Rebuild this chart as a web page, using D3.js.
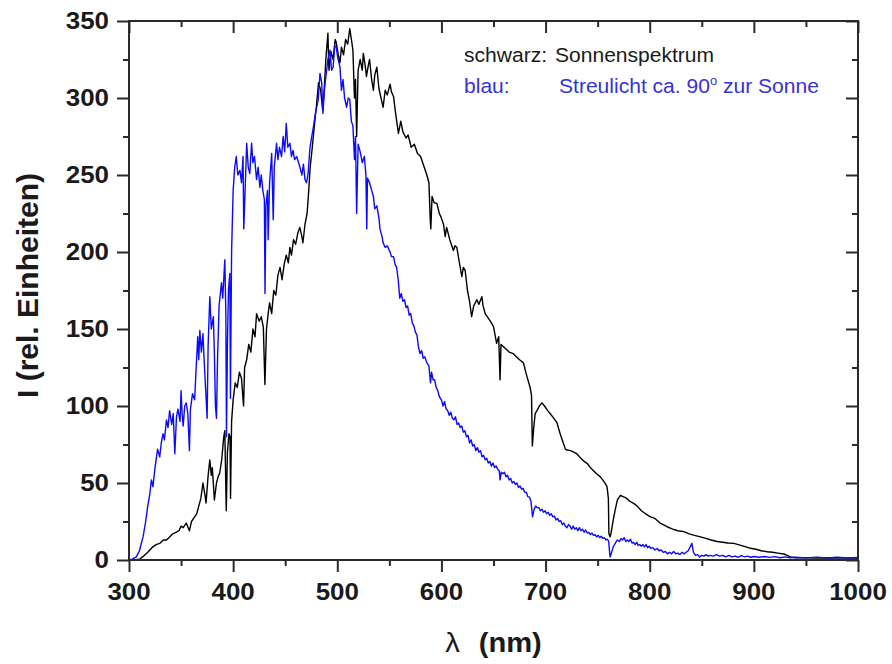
<!DOCTYPE html>
<html>
<head>
<meta charset="utf-8">
<script src="https://cdn.jsdelivr.net/npm/d3@7"></script>
<style>
  body { margin: 0; background: #ffffff; }
  svg { display: block; }
</style>
</head>
<body>
<svg id="chart" width="892" height="664"></svg>
<script>
// Sonnenspektrum (direct sunlight): wavelength in nm and relative intensity
const sunNm = [
  300,305,310,313,318,322,326,330,333,336,
  339,342,345,348,350,352,355,358,360,363,
  365,367,369,371,373,374,376,377.6,379,380,
  382,384,386,387,389,391,392,393.4,394.5,396,
  397,397.5,398.5,400,402,404,406,408,410,411,
  413,415,417,419,421,422.5,425,427,429,430.5,
  432,434,435,437,439,441,443,445,447,449,
  451,453,454.5,456,458,460,462,464,466,467,
  469,471,472,474,476,478,480,482,484,486,
  487,489,491,492,494,496,498,499,501,502.6,
  504,506,508,510,512,514,515,516.5,517.5,518.6,
  520,522,524,525,527,528,530,531,533,534.7,
  536,538,540,542,544,546,548,550.7,552,554,
  556,558.7,561,563,566,568,571,574,577,580,
  583,586,588,589.2,589.8,591,593,595.6,598,600,
  602,603.6,605,608,611.5,613,614.8,617,619.6,621,
  622.8,625,627,629,631,634,636,638.8,640,642,
  645,648,650,653,655,656.3,657.2,659.6,662,665,
  669,672,675,678.8,681,683,685,686.5,687.3,688.5,
  690,691.7,694,696.5,699,702,704.5,708,711,714,
  717,719,720.6,724,727,730,734,737,739.8,743,
  746,749,752.6,756,759,760.3,760.8,762,763,765,
  767,769,771.8,775,778,781,784.6,788,792,796,
  800.7,805,810,816.7,822,827,832.7,838,843,848.7,
  854,859,864.8,870,875,880.8,885,890,896.8,902,
  907,912.9,918,923,928.9,932,935,940,945,950,
  960,970,980,990,1000
];
const sunI = [
  0,0,0.5,2,5,8,10,11,13,13,
  15,17,18,19,22,21,24,19,25,28,
  30,35,40,50,42,37,55,65,55,60,
  39,50,55,56,65,80,84,32,70,82,
  80,40,90,104,115,112,122,118,100,125,
  130,140,135,150,145,160,155,158,151,114,
  150,162,167,160,175,172,185,190,182,192,
  198,193,203,198,208,205,212,216,210,206,
  218,225,234,255,268,282,295,310,305,292,
  300,325,342,318,330,325,338,336,328,323,
  333,328,338,335,345,336,331,300,312,275,
  318,325,318,329,320,314,322,325,312,305,
  315,320,306,300,294,305,302,309,304,301,
  290,277,285,278,274,276,268,270,264,262,
  256,250,245,222,215,236,232,231.6,225,222,
  218,210,216,208,201,204,203,194,184,190,
  188,175,168,158,165,169,166,171,165,160,
  157,154,151.5,140.7,145,117,140,138.5,137,135,
  134,132,130,128,122,117,112.5,107,74,85,
  95,97,100,102,100,97,95,92,89,82,
  76,72,71.4,71,70,69,66,64,62.8,60,
  58,56,54,51,47.6,40,17,15,18,26,
  33,39,42,41,40,38,36.8,35,32,30,
  28,27,24,21.6,20,19,18.4,17,16,15,
  14,13,12,11.5,11,10.8,10,9,7.6,7,
  6,5.4,5,4.5,3.9,3,2,1.5,1.5,1.5,
  1.3,1.5,1.2,1.4,1.3
];

// Streulicht ca. 90° zur Sonne (scattered skylight)
const skyNm = [
  300,303,307,310,313.5,316,318,320,321.5,323,
  325,326,327.5,329.5,331,332.7,334,336,337.5,339,
  341,342.5,344,345.6,347,349,350,351,352,353.5,
  355,356.5,358,359,361,363,364.5,366,367,368,
  369.5,371,372.5,374,375,376,377.6,379,381,382,
  383,384,385,386.5,388.8,390,392,393,393.6,394.5,
  395.5,396.8,397.4,398.5,400,401.5,403,404.5,406.5,408,
  409.5,410.2,411,413,414.5,416,417.7,419,420.5,422.5,
  424,425.7,427,428.5,430,430.6,431.5,433,433.6,435,
  437,438.5,439.5,441.7,443,444.5,446.5,448,449.5,451,
  452.5,454.5,456,457.5,459,461,464,466,467.5,469,
  470.5,472,473.8,475.5,477,479,481.7,483.4,485,486.2,
  487.5,489.8,491,493,494.5,496,497.5,499,500.5,502.6,
  504,505.5,507,509,510.5,512,513.5,515,516.5,517.5,
  518.6,520,522,524,526,527.5,528.3,529,531,533,
  534.7,536,538,540,541,543,544,546,548,550.7,
  552,554,555.5,557,558.5,560,561.5,563,564.5,566,
  567.5,569,570.5,572,573.5,575,576.5,578,579.5,581,
  582.5,584,586,588,589.5,590.5,592,593.5,595,596.5,
  598,600,601.5,603,604.5,606,607.5,609,610.5,612,
  613.5,615,616.5,618,619.5,621,622.5,624,625.5,627,
  628.5,630,631.5,633,634.5,636,637.5,639,640.5,642,
  643.5,645,646.5,648,649.5,651,652.5,654,655.5,656.3,
  657.5,659,660.5,662,663.5,665,666.5,668,669.5,671,
  672.5,674,675.5,677,678.5,680,681.5,683,684.5,686,
  687.5,689,690.5,692,693.5,695,696.5,698,699.5,701,
  702.5,704,705.5,707,708.5,710,711.5,713,714.5,716,
  717.5,719,720.5,722,723.5,725,726.5,728,729.5,731,
  732.5,734,735.5,737,738.5,740,741.5,743,744.5,746,
  747.5,749,750.5,752,753.5,755,756.5,758,759.5,760.6,
  761.5,762,763,765,767,769,771,772.5,774,775.5,
  777,778.5,780,781.5,783,784.5,786,787.5,789,790.5,
  792,793.5,795,796.5,798,799.5,801,803,805,807,
  809,811,813,815,817,819,821,823,825,827,
  829,831,833,835,837,838.5,840.5,842,844,846,
  848,850,852,854,856,858,861,864,867,870,
  873,876,879,882,885,888,891,894,897,900,
  905,910,915,920,925,930,935,940,950,960,
  970,980,990,1000
];
const skyI = [
  0,0.5,2,6,15,25,35,43,52,47.6,
  60,65,72,67,76,82,78,91,86,97,
  88,95,69,93,98,90,110,95,87,100,
  102,95,71,98,108,104,125,145,130,149,
  135,147,125,106,92,140,171,150,158,134,
  100,92,130,165,180,170,195,160,80,140,
  175,186,105,200,240,255,262,250,253,245,
  262,215,230,270.6,255,251,270.6,258,262,247,
  255,242,250,240,234,173,230,240,208,245,
  264,221,255,270.6,260,268,262,275,265,283.5,
  268,270.6,262,266,260,262,255.4,250,257,247,
  245,251,268,275,281,290,299,316,310,290,
  305,318,325,331,318,320,334,333,326,320,
  305,312,300,294,300,299,285,282,260,275,
  225,270,265,258,262,250,215,248,245,240,
  236,228,230,222,215,210,206,203,204,200,
  197,197,192,190,182,170,173,168,169,164,
  165,159,160,154,152,148,146,138,134,136,
  131,132,128,126,115,122,117,117,112,110,
  106,104,100,103,98,97,94,96,92,91,
  93,88,89,86,87,83,84,80,81,76,
  78,74,75,71,73,70,71,67,68,65,
  66,63,64,61,63,60,61,59,58,52,
  57,56,57,54,55,52,53,50,51,49,
  50,47,48,46,46.5,44,44,41,41,38,
  28,33,35,34,34,32,33,31,32,30,
  31,29,30,28,28.5,26,27,25,25.5,23,
  24,22,21,23,22,20,22,20,21,19,
  21,19,20,18,19.5,17.5,18,16.5,17.5,16,
  16.5,15,16,14.5,15.5,14,14.5,13,13.5,12,
  5,2,4,8.6,11,13,12,14,13,14.5,
  12,13,12,13.5,11,11.5,10,11.5,9.5,10,
  9,10,8.5,10,8,9,7.5,8,6.5,7.5,
  6,6.5,5,5.5,4,5,4,5.5,4,4.5,
  3.5,5,4,5,6,8,10.8,5,3,3.5,
  2,3,2.5,3.5,2.5,3,2.5,3.5,2.5,3,
  2,3,2,2.5,1.8,2.8,2,2.5,1.8,2.3,
  1.8,2.3,1.7,2.2,1.5,2,1.5,1.8,1.4,1.9,
  1.4,1.8,1.4,1.6
];

// Axis ticks and labels
const xMajor = [300,400,500,600,700,800,900,1000];
const xMinor = [350,450,550,650,750,850,950];
const yMajor = [0,50,100,150,200,250,300,350];
const yMinor = [25,75,125,175,225,275,325];

const xTitle = "λ";
const xUnit = "(nm)";
const yTitle = "I (rel. Einheiten)";

const svg = d3.select("#chart");
const m = { left: 129, right: 858, top: 21, bottom: 560 };
const sx = 1.08; // slight horizontal widening of the lettering

const x = d3.scaleLinear().domain([300, 1000]).range([m.left, m.right]);
const y = d3.scaleLinear().domain([0, 350]).range([m.bottom, m.top]);

const axisColor = "#2a2a2a";
const fontFamily = "'Liberation Sans', Arial, Helvetica, sans-serif";

// Data curves
const line = d3.line().x(d => x(d[0])).y(d => y(d[1]));
const plot = svg.append("g");
plot.append("path")
  .attr("d", line(d3.zip(sunNm, sunI)))
  .attr("fill", "none").attr("stroke", "#000000")
  .attr("stroke-width", 1.4).attr("stroke-linejoin", "round");
plot.append("path")
  .attr("d", line(d3.zip(skyNm, skyI)))
  .attr("fill", "none").attr("stroke", "#0a0aff")
  .attr("stroke-width", 1.4).attr("stroke-linejoin", "round");

// Axes: outward ticks at bottom/left, inward mirrored ticks at top/right
function addAxis(gen, scale, vals, size, tx, ty) {
  const g = svg.append("g").attr("transform", `translate(${tx},${ty})`)
    .call(gen(scale).tickValues(vals).tickSize(size).tickSizeOuter(0).tickFormat(""));
  g.select(".domain").remove();
  g.selectAll("line").attr("stroke", axisColor).attr("stroke-width", 2);
  return g;
}
addAxis(d3.axisBottom, x, xMajor, 12, 0, m.bottom);
addAxis(d3.axisBottom, x, xMinor, 6, 0, m.bottom);
addAxis(d3.axisTop, x, xMajor, -12, 0, m.top);
addAxis(d3.axisTop, x, xMinor, -6, 0, m.top);
addAxis(d3.axisLeft, y, yMajor, 12, m.left, 0);
addAxis(d3.axisLeft, y, yMinor, 6, m.left, 0);
addAxis(d3.axisRight, y, yMajor, -12, m.right, 0);
addAxis(d3.axisRight, y, yMinor, -6, m.right, 0);

// Frame
svg.append("rect")
  .attr("x", m.left).attr("y", m.top)
  .attr("width", m.right - m.left).attr("height", m.bottom - m.top)
  .attr("fill", "none").attr("stroke", axisColor).attr("stroke-width", 2);

// Tick labels
svg.append("g").selectAll("text").data(xMajor).join("text")
  .attr("transform", d => `translate(${x(d)},${m.bottom + 40}) scale(${sx},1)`)
  .attr("text-anchor", "middle")
  .attr("font-family", fontFamily).attr("font-weight", "bold").attr("font-size", 24)
  .attr("fill", "#1a1a1a")
  .text(d => d);
svg.append("g").selectAll("text").data(yMajor).join("text")
  .attr("transform", d => `translate(${m.left - 20},${y(d) + 8}) scale(${sx},1)`)
  .attr("text-anchor", "end")
  .attr("font-family", fontFamily).attr("font-weight", "bold").attr("font-size", 24)
  .attr("fill", "#1a1a1a")
  .text(d => d);

// Axis titles
const xt = svg.append("text")
  .attr("transform", `translate(${(m.left + m.right) / 2},652) scale(${sx},1)`)
  .attr("text-anchor", "middle")
  .attr("font-family", fontFamily).attr("font-size", 27).attr("fill", "#1a1a1a");
xt.append("tspan").attr("font-weight", "normal").text(xTitle);
xt.append("tspan").attr("font-weight", "bold").attr("dx", 10).text(" " + xUnit);

svg.append("text")
  .attr("transform", `translate(38,${(m.top + m.bottom) / 2 - 5}) rotate(-90)`)
  .attr("text-anchor", "middle")
  .attr("font-family", fontFamily).attr("font-weight", "bold").attr("font-size", 30)
  .attr("fill", "#1a1a1a")
  .text(yTitle);

// Legend lines of text
function legendText(px, py, color, parts) {
  const t = svg.append("text")
    .attr("transform", `translate(${px},${py}) scale(${sx},1)`)
    .attr("font-family", fontFamily).attr("font-size", 19.5).attr("fill", color);
  parts.forEach(p => {
    const s = t.append("tspan").text(p.text);
    if (p.sup) s.attr("font-size", 12).attr("dy", -8);
    if (p.down) s.attr("dy", 8);
  });
}
legendText(464, 62, "#1a1a1a", [{ text: "schwarz:" }]);
legendText(555, 62, "#1a1a1a", [{ text: "Sonnenspektrum" }]);
legendText(464, 93, "#3434d8", [{ text: "blau:" }]);
legendText(559, 93, "#3434d8", [
  { text: "Streulicht ca. 90" }, { text: "o", sup: true }, { text: " zur Sonne", down: true }
]);
</script>
</body>
</html>
